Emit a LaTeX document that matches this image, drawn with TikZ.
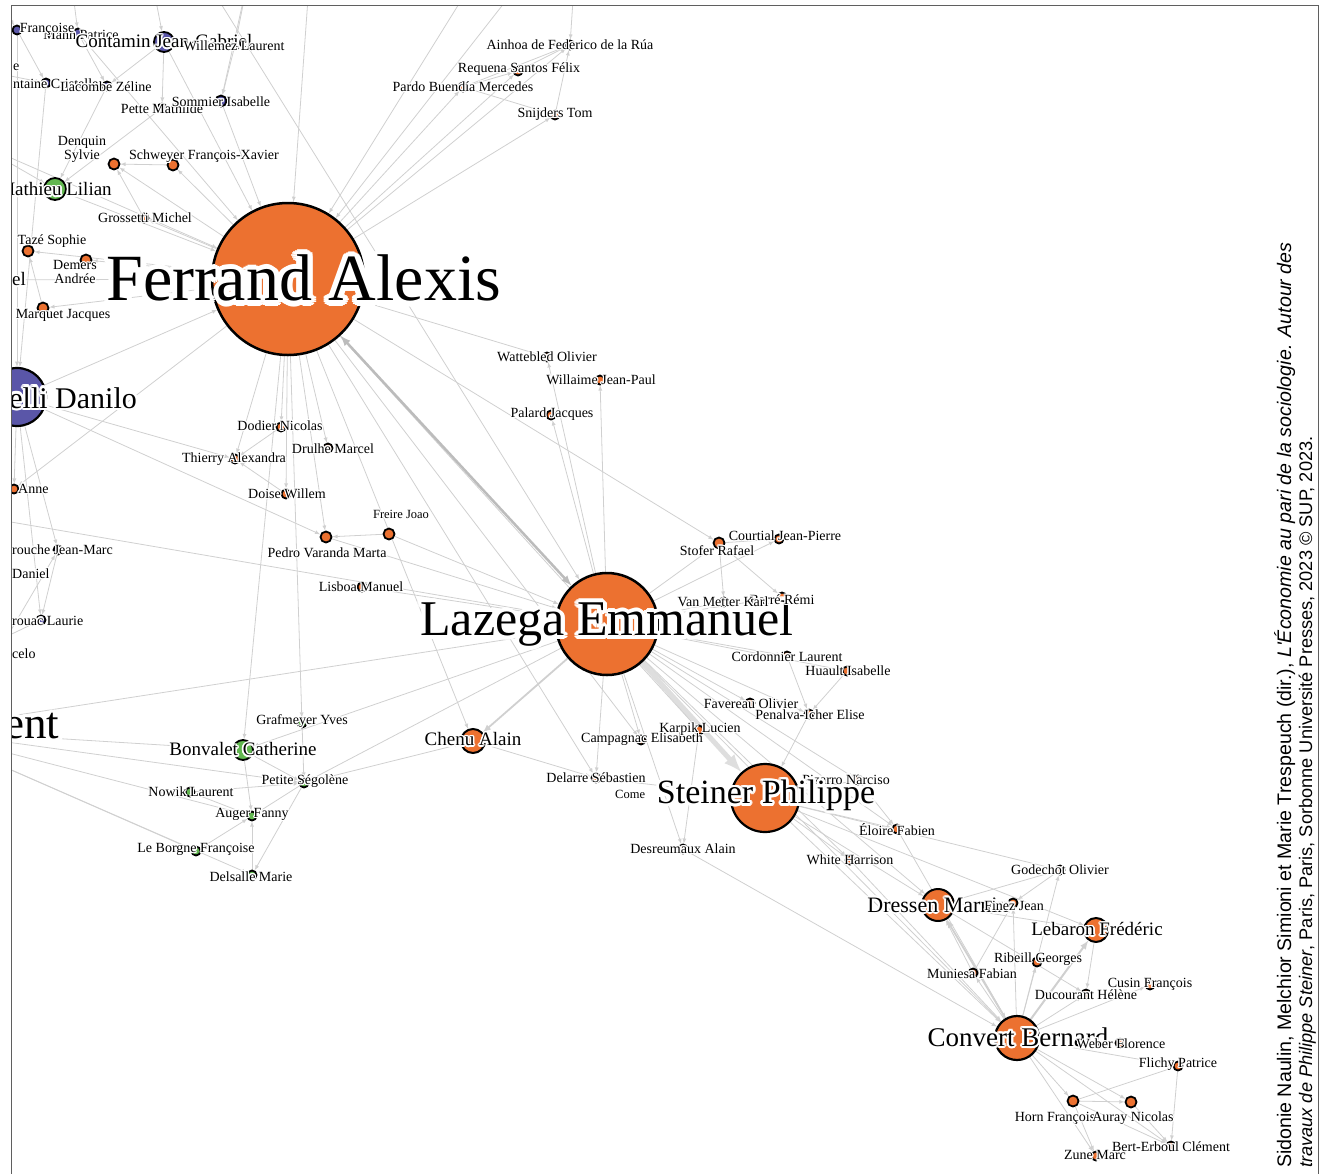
\documentclass[tikz,border=0pt]{standalone}
\usepackage{fontspec}
\setmainfont{Liberation Serif}
\newfontfamily\creditfont{Liberation Sans}
\usepackage{xcolor}
\usepackage[copies]{contour}
\contournumber{16}
\definecolor{ecosoc}{RGB}{236,113,48}
\definecolor{polsoc}{RGB}{90,86,168}
\definecolor{urbsoc}{RGB}{98,183,80}
\definecolor{faded}{RGB}{168,164,192}
\definecolor{tie}{RGB}{208,208,208}
\definecolor{tiedark}{RGB}{188,188,188}
\definecolor{frame}{RGB}{95,95,95}
\newcommand{\halo}[1]{\contour{white}{#1}}
\pgfdeclarelayer{ties}
\pgfsetlayers{ties,main}
\tikzstyle{person}=[circle, draw=black, line width=1.8pt, inner sep=0pt, minimum size=9pt]
\tikzstyle{ecosoc}=[fill = ecosoc]
\tikzstyle{polsoc}=[fill = polsoc]
\tikzstyle{urbsoc}=[fill = urbsoc]
\tikzstyle{faded}=[fill = faded]
\tikzstyle{link}=[-latex, draw=tie, line width=0.8pt]
\tikzset{pnamesize/.style={inner sep=0pt, text=black, font=\fontsize{#1pt}{#1pt}\selectfont\contourlength{0.08em}},
  pname/.style={pnamesize=14}, pnamesmall/.style={pnamesize=12.5}, pnamemid/.style={pnamesize=19}}

\begin{document}
\begin{tikzpicture}[x=1pt,y=-1pt]
  \useasboundingbox (0,0) rectangle (1327,1173);
  \begin{scope}
  \clip (12,6) rectangle (1318,1173);
  %% Off-frame ends
  \coordinate (offA) at (-20,-30);
  \coordinate (offB) at (70,-30);
  \coordinate (offC) at (150,-30);
  \coordinate (offD) at (250,-30);
  \coordinate (offE) at (-30,140);
  \coordinate (offF) at (310,-30);
  \coordinate (offG) at (480,-30);
  \coordinate (offH) at (530,-30);
  \coordinate (offI) at (575,-30);
  \coordinate (offJ) at (200,-30);
  \coordinate (offK) at (-30,515);
  \coordinate (offL) at (-30,700);
  \coordinate (eX) at (-30,68);
  \coordinate (elX) at (-30,280);
  \coordinate (danielX) at (-30,574);
  \coordinate (celoX) at (-30,654);
  \coordinate (ent) at (-80,730);

  %% Authors
  \draw (17,30) node[person,polsoc] (francoise) {};
  \draw (78,33) node[person,polsoc] (mann) {};
  \draw (164,42) node[person,polsoc,minimum size=20pt] (contamin) {};
  \draw (235,45) node[person,faded] (willemez) {};
  \draw (46,83) node[person,polsoc] (fontaine) {};
  \draw (107,86) node[person,polsoc] (lacombe) {};
  \draw (162,108) node[person,faded] (pette) {};
  \draw (221,101) node[person,polsoc,minimum size=11pt] (sommier) {};
  \draw (114,164) node[person,ecosoc,minimum size=11pt] (denquin) {};
  \draw (173,165) node[person,ecosoc,minimum size=11pt] (schweyer) {};
  \draw (55,189) node[person,urbsoc,minimum size=22pt] (mathieu) {};
  \draw (144,218) node[person,ecosoc] (grossetti) {};
  \draw (28,251) node[person,ecosoc,minimum size=11pt] (taze) {};
  \draw (86,260) node[person,ecosoc,minimum size=11pt] (demers) {};
  \draw (43,308) node[person,ecosoc,minimum size=11pt] (marquet) {};

  \draw (570,45) node[person,ecosoc] (ainhoa) {};
  \draw (518,71) node[person,ecosoc] (requena) {};
  \draw (463,87) node[person,ecosoc] (pardo) {};
  \draw (555,115) node[person,ecosoc] (snijders) {};

  \draw (288,279) node[person,ecosoc,minimum size=152pt,line width=2.5pt] (ferrand) {};
  \draw (17,397) node[person,polsoc,minimum size=58pt,line width=2.2pt] (danilo) {};
  \draw (14,489) node[person,ecosoc] (anne) {};
  \draw (58,550) node[person,polsoc] (jeanmarc) {};
  \draw (41,620) node[person,polsoc] (laurie) {};

  \draw (281,427) node[person,ecosoc] (dodier) {};
  \draw (235,459) node[person,ecosoc] (thierry) {};
  \draw (328,448) node[person,ecosoc] (drulhe) {};
  \draw (286,494) node[person,ecosoc] (doise) {};
  \draw (326,537) node[person,ecosoc,minimum size=11pt] (pedro) {};
  \draw (389,534) node[person,ecosoc,minimum size=11pt] (freire) {};
  \draw (362,587) node[person,ecosoc] (lisboa) {};
  \draw (547,357) node[person,ecosoc] (wattebled) {};
  \draw (600,380) node[person,ecosoc] (willaime) {};
  \draw (551,415) node[person,ecosoc] (palard) {};

  \draw (607,624) node[person,ecosoc,minimum size=102pt,line width=2.5pt] (lazega) {};
  \draw (719,543) node[person,ecosoc,minimum size=11pt] (stofer) {};
  \draw (779,539) node[person,ecosoc] (courtial) {};
  \draw (724,602) node[person,ecosoc] (vanmetter) {};
  \draw (782,597) node[person,ecosoc] (barre) {};
  \draw (787,656) node[person,ecosoc] (cordonnier) {};
  \draw (847,671) node[person,ecosoc] (huault) {};
  \draw (750,703) node[person,ecosoc] (favereau) {};
  \draw (809,714) node[person,ecosoc] (penalva) {};
  \draw (699,730) node[person,ecosoc] (karpik) {};
  \draw (641,740) node[person,ecosoc] (campagnac) {};
  \draw (473,741) node[person,ecosoc,minimum size=24pt,line width=2pt] (chenu) {};
  \draw (596,778) node[person,ecosoc] (delarre) {};
  \draw (765,798) node[person,ecosoc,minimum size=68pt,line width=2.2pt] (steiner) {};
  \draw (858,780) node[person,ecosoc] (pizarro) {};
  \draw (897,829) node[person,ecosoc] (eloire) {};
  \draw (683,849) node[person,ecosoc] (desreumaux) {};
  \draw (850,860) node[person,ecosoc] (white) {};

  \draw (302,723) node[person,urbsoc] (grafmeyer) {};
  \draw (243,750) node[person,urbsoc,minimum size=20pt] (bonvalet) {};
  \draw (304,783) node[person,urbsoc] (petite) {};
  \draw (190,792) node[person,urbsoc] (nowik) {};
  \draw (252,816) node[person,urbsoc] (auger) {};
  \draw (196,851) node[person,urbsoc] (leborgne) {};
  \draw (252,875) node[person,urbsoc] (delsalle) {};

  \draw (1060,870) node[person,ecosoc] (godechot) {};
  \draw (938,905) node[person,ecosoc,minimum size=32pt,line width=2pt] (dressen) {};
  \draw (1013,903) node[person,ecosoc] (finez) {};
  \draw (1096,930) node[person,ecosoc,minimum size=24pt,line width=2pt] (lebaron) {};
  \draw (1037,962) node[person,ecosoc] (ribeill) {};
  \draw (973,973) node[person,ecosoc] (muniesa) {};
  \draw (1086,994) node[person,ecosoc] (ducourant) {};
  \draw (1150,985) node[person,ecosoc] (cusin) {};
  \draw (1017,1038) node[person,ecosoc,minimum size=44pt,line width=2.2pt] (convert) {};
  \draw (1120,1043) node[person,ecosoc] (weber) {};
  \draw (1178,1066) node[person,ecosoc] (flichy) {};
  \draw (1073,1101) node[person,ecosoc,minimum size=11pt] (horn) {};
  \draw (1131,1102) node[person,ecosoc,minimum size=11pt] (auray) {};
  \draw (1171,1146) node[person,ecosoc] (berterboul) {};
  \draw (1096,1156) node[person,ecosoc] (zune) {};

  %% Names
  \draw (81,35) node[pname] (lMann) {\halo{Mann Patrice}};
  \draw (47,30) node[pname] (lFrancoise) {\halo{Françoise}};
  \draw (164,42) node[pnamemid] (lContamin) {\halo{Contamin Jean-Gabriel}};
  \draw (234,46) node[pname] (lWillemez) {\halo{Willemez Laurent}};
  \draw (13,68) node[pname,anchor=west] (lE) {\halo{e}};
  \draw (13,84) node[pname,anchor=west] (lFontaine) {\halo{ntaine Cristelle}};
  \draw (106,87) node[pname] (lLacombe) {\halo{Lacombe Zéline}};
  \draw (162,109) node[pname] (lPette) {\halo{Pette Mathilde}};
  \draw (221,102) node[pname] (lSommier) {\halo{Sommier Isabelle}};
  \draw (82,150) node[pname,align=center] (lDenquin) {\halo{Denquin}\\\halo{Sylvie}};
  \draw (204,157) node[pname] (lSchweyer) {\halo{Schweyer François-Xavier}};
  \draw (55,190) node[pnamemid] (lMathieu) {\halo{Mathieu Lilian}};
  \draw (145,218) node[pname] (lGrossetti) {\halo{Grossetti Michel}};
  \draw (52,242) node[pname] (lTaze) {\halo{Tazé Sophie}};
  \draw (75,273) node[pname,align=center] (lDemers) {\halo{Demers}\\\halo{Andrée}};
  \draw (12,280) node[pnamemid,anchor=west] (lEl) {\halo{el}};
  \draw (63,316) node[pname] (lMarquet) {\halo{Marquet Jacques}};
  \draw (570,45) node[pname] (lAinhoa) {\halo{Ainhoa de Federico de la Rúa}};
  \draw (519,70) node[pname] (lRequena) {\halo{Requena Santos Félix}};
  \draw (463,87) node[pname] (lPardo) {\halo{Pardo Buendía Mercedes}};
  \draw (555,115) node[pname] (lSnijders) {\halo{Snijders Tom}};
  \draw (304,281) node[pnamesize=66] (lFerrand) {\halo{Ferrand Alexis}};
  \draw (137,399) node[pnamesize=30,anchor=east] (lDanilo) {\halo{Martuccelli Danilo}};
  \draw (18,489) node[pname,anchor=west] (lAnne) {\halo{Anne}};
  \draw (12,550) node[pname,anchor=west] (lJeanMarc) {\halo{rouche Jean-Marc}};
  \draw (12,574) node[pname,anchor=west] (lDaniel) {\halo{Daniel}};
  \draw (12,621) node[pname,anchor=west] (lLaurie) {\halo{rouac Laurie}};
  \draw (12,654) node[pname,anchor=west] (lCelo) {\halo{celo}};
  \draw (280,426) node[pname] (lDodier) {\halo{Dodier Nicolas}};
  \draw (234,460) node[pname] (lThierry) {\halo{Thierry Alexandra}};
  \draw (333,449) node[pname] (lDrulhe) {\halo{Drulhe Marcel}};
  \draw (287,494) node[pname] (lDoise) {\halo{Doise Willem}};
  \draw (327,553) node[pname] (lPedro) {\halo{Pedro Varanda Marta}};
  \draw (401,515) node[pnamesmall] (lFreire) {\halo{Freire Joao}};
  \draw (361,587) node[pname] (lLisboa) {\halo{Lisboa Manuel}};
  \draw (547,357) node[pname] (lWattebled) {\halo{Wattebled Olivier}};
  \draw (601,380) node[pname] (lWillaime) {\halo{Willaime Jean-Paul}};
  \draw (552,415) node[pname] (lPalard) {\halo{Palard Jacques}};
  \draw (607,626) node[pnamesize=50] (lLazega) {\halo{Lazega Emmanuel}};
  \draw (717,551) node[pname] (lStofer) {\halo{Stofer Rafael}};
  \draw (785,536) node[pname] (lCourtial) {\halo{Courtial Jean-Pierre}};
  \draw (782,600) node[pname] (lBarre) {\halo{Barré Rémi}};
  \draw (723,602) node[pname] (lVanMetter) {\halo{Van Metter Karl}};
  \draw (787,657) node[pname] (lCordonnier) {\halo{Cordonnier Laurent}};
  \draw (848,671) node[pname] (lHuault) {\halo{Huault Isabelle}};
  \draw (751,704) node[pname] (lFavereau) {\halo{Favereau Olivier}};
  \draw (810,715) node[pname] (lPenalva) {\halo{Penalva-Icher Elise}};
  \draw (642,740) node[pname] (lCampagnac) {\halo{Campagnac Elisabeth}};
  \draw (700,730) node[pname] (lKarpik) {\halo{Karpik Lucien}};
  \draw (473,740) node[pnamemid] (lChenu) {\halo{Chenu Alain}};
  \draw (596,778) node[pname] (lDelarre) {\halo{Delarre Sébastien}};
  \draw (615,795) node[pnamesmall,anchor=west] (lCome) {\halo{Come}};
  \draw (846,780) node[pname] (lPizarro) {\halo{Pizarro Narciso}};
  \draw (766,797) node[pnamesize=34] (lSteiner) {\halo{Steiner Philippe}};
  \draw (897,830) node[pname] (lEloire) {\halo{Éloire Fabien}};
  \draw (683,849) node[pname] (lDesreumaux) {\halo{Desreumaux Alain}};
  \draw (850,860) node[pname] (lWhite) {\halo{White Harrison}};
  \draw (302,722) node[pname] (lGrafmeyer) {\halo{Grafmeyer Yves}};
  \draw (243,750) node[pnamemid] (lBonvalet) {\halo{Bonvalet Catherine}};
  \draw (305,782) node[pname] (lPetite) {\halo{Petite Ségolène}};
  \draw (191,792) node[pname] (lNowik) {\halo{Nowik Laurent}};
  \draw (252,815) node[pname] (lAuger) {\halo{Auger Fanny}};
  \draw (196,850) node[pname] (lLeBorgne) {\halo{Le Borgne Françoise}};
  \draw (251,877) node[pname] (lDelsalle) {\halo{Delsalle Marie}};
  \draw (4,728) node[pnamesize=45,anchor=west] (lEnt) {\halo{ent}};
  \draw (1060,870) node[pname] (lGodechot) {\halo{Godechot Olivier}};
  \draw (938,906) node[pnamesize=22] (lDressen) {\halo{Dressen Marnix}};
  \draw (1014,906) node[pname] (lFinez) {\halo{Finez Jean}};
  \draw (1097,930) node[pnamemid] (lLebaron) {\halo{Lebaron Frédéric}};
  \draw (1038,960) node[pname] (lRibeill) {\halo{Ribeill Georges}};
  \draw (972,974) node[pname] (lMuniesa) {\halo{Muniesa Fabian}};
  \draw (1086,995) node[pname] (lDucourant) {\halo{Ducourant Hélène}};
  \draw (1150,985) node[pname] (lCusin) {\halo{Cusin François}};
  \draw (1018,1038) node[pnamesize=27] (lConvert) {\halo{Convert Bernard}};
  \draw (1121,1044) node[pname] (lWeber) {\halo{Weber Florence}};
  \draw (1178,1065) node[pname] (lFlichy) {\halo{Flichy Patrice}};
  \draw (1055,1119) node[pname] (lHorn) {\halo{Horn François}};
  \draw (1133,1119) node[pname] (lAuray) {\halo{Auray Nicolas}};
  \draw (1171,1147) node[pname] (lBertErboul) {\halo{Bert-Erboul Clément}};
  \draw (1095,1156) node[pname] (lZune) {\halo{Zune Marc}};
  \end{scope}

  \begin{pgfonlayer}{ties}
  \begin{scope}
  \clip (12,6) rectangle (1318,1173);
  %% Top left
  \draw[link] (offA) -- (francoise);
  \draw[link] (offB) -- (mann);
  \draw[link] (offC) -- (contamin);
  \draw[link] (offD) -- (willemez);
  \draw[link] (offD) -- (sommier);
  \draw[link] (eX) -- (fontaine);
  \draw[link] (francoise) -- (fontaine);
  \draw[link] (mann) -- (lacombe);
  \draw[link] (contamin) -- (pette);
  \draw[link] (willemez) -- (sommier);
  \draw[link] (contamin) -- (lacombe);
  \draw[link] (pette) -- (mathieu);
  \draw[link] (lacombe) -- (mathieu);
  \draw[link] (fontaine) -- (danilo);
  \draw[link] (francoise) -- (danilo);
  \draw[link] (contamin) -- (ferrand);
  \draw[link] (mann) -- (ferrand);
  \draw[link] (sommier) -- (ferrand);
  \draw[link] (offE) -- (ferrand);
  \draw[link] (offE) -- (mathieu);
  \draw[link] (ferrand) -- (schweyer);
  \draw[link] (schweyer) -- (denquin);
  \draw[link] (ferrand) -- (denquin);
  \draw[link] (grossetti) -- (denquin);
  \draw[link] (mathieu) -- (ferrand);
  \draw[link] (ferrand) -- (grossetti);
  \draw[link] (ferrand) -- (taze);
  \draw[link] (ferrand) -- (demers);
  \draw[link] (ferrand) -- (marquet);
  \draw[link] (ferrand) -- (elX);
  \draw[link] (marquet) -- (taze);
  \draw[link] (danilo) -- (ferrand);
  \draw[link] (ferrand) -- (anne);
  \draw[link] (danilo) -- (anne);
  \draw[link] (danilo) -- (jeanmarc);
  \draw[link] (danilo) -- (laurie);
  \draw[link] (danilo) -- (danielX);
  \draw[link] (jeanmarc) -- (laurie);
  \draw[link] (offL) -- (jeanmarc);
  \draw[link] (celoX) -- (laurie);
  \draw[link] (danilo) -- (thierry);
  \draw[link] (danilo) -- (pedro);
  \draw[link] (offK) -- (lazega);
  %% Top middle
  \draw[link] (ferrand) -- (pardo);
  \draw[link] (ferrand) -- (requena);
  \draw[link] (ferrand) -- (ainhoa);
  \draw[link] (ferrand) -- (snijders);
  \draw[link] (pardo) -- (requena);
  \draw[link] (pardo) -- (ainhoa);
  \draw[link] (requena) -- (ainhoa);
  \draw[link] (pardo) -- (snijders);
  \draw[link] (snijders) -- (ainhoa);
  \draw[link] (offI) -- (ainhoa);
  \draw[link] (offF) -- (ferrand);
  \draw[link] (offG) -- (ferrand);
  \draw[link] (offH) -- (ferrand);
  \draw[link] (offJ) -- (lazega);
  %% Middle
  \draw[link] (ferrand) -- (dodier);
  \draw[link] (ferrand) -- (thierry);
  \draw[link] (ferrand) -- (drulhe);
  \draw[link] (ferrand) -- (doise);
  \draw[link] (ferrand) -- (pedro);
  \draw[link] (dodier) -- (thierry);
  \draw[link] (doise) -- (thierry);
  \draw[link] (freire) -- (pedro);
  \draw[link] (freire) -- (lazega);
  \draw[link] (pedro) -- (lazega);
  \draw[link] (lisboa) -- (lazega);
  \draw[link] (ferrand) -- (wattebled);
  \draw[link] (lazega) -- (wattebled);
  \draw[link] (lazega) -- (willaime);
  \draw[link] (lazega) -- (palard);
  \draw[link] (ferrand) -- (stofer);
  \draw[link] (ferrand) -- (chenu);
  \draw[link] (ferrand) -- (campagnac);
  \draw[link] (ferrand) -- (delarre);
  \draw[link] (ferrand) -- (karpik);
  \draw[link] (ferrand) -- (grafmeyer);
  \draw[link] (ferrand) -- (bonvalet);
  \draw[link,latex-latex,draw=tiedark,line width=2.5pt] (ferrand) -- (lazega);
  %% Lazega
  \draw[link] (lazega) -- (stofer);
  \draw[link] (lazega) -- (courtial);
  \draw[link] (lazega) -- (vanmetter);
  \draw[link] (lazega) -- (barre);
  \draw[link] (lazega) -- (cordonnier);
  \draw[link] (lazega) -- (huault);
  \draw[link] (lazega) -- (favereau);
  \draw[link] (lazega) -- (penalva);
  \draw[link] (lazega) -- (karpik);
  \draw[link] (lazega) -- (campagnac);
  \draw[link] (lazega) -- (delarre);
  \draw[link] (lazega) -- (desreumaux);
  \draw[link] (lazega) -- (pizarro);
  \draw[link] (lazega) -- (eloire);
  \draw[link] (lazega) -- (white);
  \draw[link] (lazega) -- (dressen);
  \draw[link] (lazega) -- (convert);
  \draw[link] (lazega) -- (petite);
  \draw[link] (lazega) -- (bonvalet);
  \draw[link,line width=1.8pt] (lazega) -- (chenu);
  \draw[link,line width=5pt,draw=tie!70] (lazega) -- (steiner);
  \draw[link] (ent) -- (lazega);
  \draw[link] (stofer) -- (courtial);
  \draw[link] (stofer) -- (vanmetter);
  \draw[link] (stofer) -- (barre);
  \draw[link] (cordonnier) -- (penalva);
  \draw[link] (huault) -- (penalva);
  \draw[link] (penalva) -- (steiner);
  \draw[link] (karpik) -- (desreumaux);
  \draw[link] (chenu) -- (delarre);
  \draw[link] (petite) -- (chenu);
  %% Green group
  \draw[link] (grafmeyer) -- (petite);
  \draw[link] (bonvalet) -- (auger);
  \draw[link] (bonvalet) -- (petite);
  \draw[link] (petite) -- (auger);
  \draw[link] (petite) -- (delsalle);
  \draw[link] (leborgne) -- (auger);
  \draw[link] (delsalle) -- (auger);
  \draw[link] (nowik) -- (auger);
  \draw[link] (nowik) -- (petite);
  \draw[link] (ent) -- (petite);
  \draw[link] (ent) -- (leborgne);
  \draw[link] (ent) -- (delsalle);
  \draw[link] (ent) -- (auger);
  \draw[link] (ent) -- (bonvalet);
  %% Steiner
  \draw[link] (steiner) -- (pizarro);
  \draw[link] (steiner) -- (eloire);
  \draw[link] (steiner) -- (white);
  \draw[link] (steiner) -- (dressen);
  \draw[link] (steiner) -- (convert);
  \draw[link] (steiner) -- (lebaron);
  \draw[link] (steiner) -- (godechot);
  \draw[link] (delarre) -- (steiner);
  \draw[link] (desreumaux) -- (convert);
  \draw[link] (white) -- (convert);
  \draw[link] (eloire) -- (convert);
  \draw[link] (pizarro) -- (eloire);
  %% Convert
  \draw[link,line width=1.8pt] (convert) -- (dressen);
  \draw[link,line width=2pt] (convert) -- (lebaron);
  \draw[link] (convert) -- (muniesa);
  \draw[link] (convert) -- (finez);
  \draw[link] (convert) -- (ribeill);
  \draw[link] (convert) -- (ducourant);
  \draw[link] (convert) -- (godechot);
  \draw[link] (convert) -- (weber);
  \draw[link] (convert) -- (flichy);
  \draw[link] (convert) -- (horn);
  \draw[link] (convert) -- (auray);
  \draw[link] (convert) -- (zune);
  \draw[link] (convert) -- (berterboul);
  \draw[link] (convert) -- (cusin);
  \draw[link] (dressen) -- (finez);
  \draw[link] (dressen) -- (lebaron);
  \draw[link] (dressen) -- (ducourant);
  \draw[link] (godechot) -- (dressen);
  \draw[link] (muniesa) -- (dressen);
  \draw[link] (muniesa) -- (finez);
  \draw[link] (godechot) -- (finez);
  \draw[link] (lebaron) -- (ducourant);
  \draw[link] (horn) -- (auray);
  \draw[link] (horn) -- (flichy);
  \draw[link] (flichy) -- (berterboul);
  \draw[link] (auray) -- (berterboul);
  \draw[link] (horn) -- (berterboul);
  \draw[link] (horn) -- (zune);
  \end{scope}
  \end{pgfonlayer}

  %% Credit line
  \draw (1291,1168) node[rotate=90,anchor=base west,inner sep=0pt,font=\creditfont\fontsize{19.6}{19.6}\selectfont] (credit1)
    {Sidonie Naulin, Melchior Simioni et Marie Trespeuch (dir.), \textit{L'Économie au pari de la sociologie. Autour des}};
  \draw (1312,1168) node[rotate=90,anchor=base west,inner sep=0pt,font=\creditfont\fontsize{18.2}{18.2}\selectfont] (credit2)
    {\textit{travaux de Philippe Steiner}, Paris, Paris, Sorbonne Université Presses, 2023 © SUP, 2023.};
  \draw[draw=frame,line width=1.5pt] (11.5,1180) -- (11.5,5.5) -- (1318.5,5.5) -- (1318.5,1180);
\end{tikzpicture}
\end{document}
